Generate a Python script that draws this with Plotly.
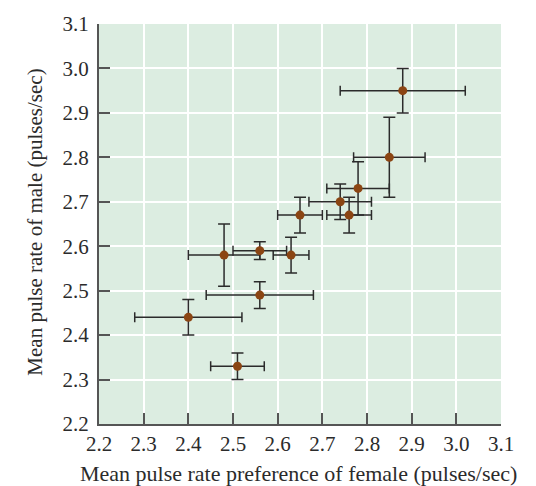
import plotly.graph_objects as go

# Female preference (x) vs male pulse rate (y), with +/- errors
female_pref = [2.88, 2.85, 2.78, 2.74, 2.76, 2.65, 2.48, 2.56, 2.63, 2.56, 2.40, 2.51]
female_err = [0.14, 0.08, 0.07, 0.07, 0.05, 0.05, 0.08, 0.06, 0.04, 0.12, 0.12, 0.06]
male_rate = [2.95, 2.80, 2.73, 2.70, 2.67, 2.67, 2.58, 2.59, 2.58, 2.49, 2.44, 2.33]
male_err = [0.05, 0.09, 0.06, 0.04, 0.04, 0.04, 0.07, 0.02, 0.04, 0.03, 0.04, 0.03]

tick_vals = [2.2, 2.3, 2.4, 2.5, 2.6, 2.7, 2.8, 2.9, 3.0, 3.1]
tick_text = ["2.2", "2.3", "2.4", "2.5", "2.6", "2.7", "2.8", "2.9", "3.0", "3.1"]

x_title = "Mean pulse rate preference of female (pulses/sec)"
y_title = "Mean pulse rate of male (pulses/sec)"

serif = "Liberation Serif"
ink = "#2b2b2b"

fig = go.Figure(
    go.Scatter(
        x=female_pref,
        y=male_rate,
        mode="markers",
        marker=dict(color="#8b4513", size=9, line=dict(width=0)),
        error_x=dict(type="data", array=female_err, color=ink, thickness=1.5, width=5),
        error_y=dict(type="data", array=male_err, color=ink, thickness=1.5, width=6),
        hoverinfo="skip",
    )
)

axis_common = dict(
    tickvals=tick_vals,
    ticktext=tick_text,
    ticks="inside",
    ticklen=11,
    tickwidth=1.5,
    tickcolor="#555555",
    showline=True,
    linecolor="#555555",
    linewidth=2,
    showgrid=True,
    gridcolor="white",
    gridwidth=1.5,
    zeroline=False,
    tickfont=dict(family=serif, size=21, color=ink),
    fixedrange=True,
)

fig.update_xaxes(range=[2.2, 3.1], **axis_common)
fig.update_yaxes(range=[2.2, 3.1], ticklabelstandoff=4, **axis_common)

fig.add_annotation(
    text=x_title, xref="paper", yref="paper", x=0.497, y=-0.1235,
    xanchor="center", yanchor="middle", showarrow=False,
    font=dict(family=serif, size=22, color=ink),
)
fig.add_annotation(
    text=y_title, xref="paper", yref="paper", x=-0.16, y=0.505,
    xanchor="center", yanchor="middle", showarrow=False, textangle=-90,
    font=dict(family=serif, size=21, color=ink),
)

fig.update_layout(
    width=536,
    height=486,
    margin=dict(l=99, r=35, t=19, b=62),
    plot_bgcolor="#dcede1",
    paper_bgcolor="white",
    showlegend=False,
)

fig.write_html("out.html")
